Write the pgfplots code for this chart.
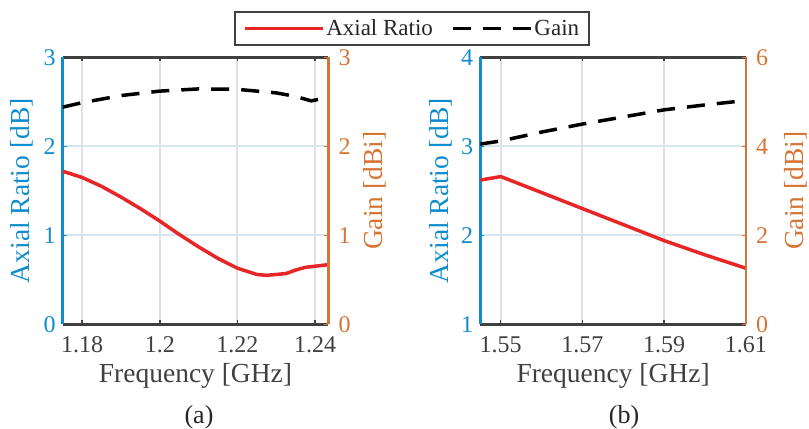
\documentclass[border=0pt]{standalone}
\usepackage{fontspec}
\setmainfont{Liberation Serif}
\usepackage{pgfplots}
\pgfplotsset{compat=1.18}
\definecolor{arblue}{RGB}{16,140,205}
\definecolor{gorange}{RGB}{214,116,52}
\definecolor{arred}{RGB}{232,38,40}
\definecolor{axgray}{RGB}{64,64,64}
\definecolor{xgridc}{RGB}{223,224,227}
\definecolor{ygridc}{RGB}{214,229,238}

\pgfplotsset{
  panel/.style={scale only axis, width=265.6bp, height=267bp, anchor=south west,
    tick align=inside, major tick length=4bp,
    /pgf/number format/assume math mode=true,
    tick label style={font=\fontsize{24bp}{28bp}\selectfont, inner sep=2bp},
    label style={font=\fontsize{27.5bp}{32bp}\selectfont},
  },
  leftax/.style={panel, axis y line*=left,
    x axis line style={draw=axgray, line width=2.5bp},
    y axis line style={draw=arblue, line width=2.5bp},
    xtick style={draw=axgray, line width=1.5bp},
    ytick style={draw=arblue, line width=1.5bp},
    xticklabel style={text=axgray, yshift=-10.5bp},
    yticklabel style={text=arblue, xshift=-5bp},
    xmajorgrids, ymajorgrids,
    x grid style={draw=xgridc, line width=2bp},
    y grid style={draw=ygridc, line width=2bp},
    xlabel={Frequency [GHz]},
    xlabel style={text=axgray, inner sep=0, anchor=north, at={(axis description cs:0.5,-0.145)}},
    ylabel={Axial Ratio [dB]},
    ylabel style={text=arblue, inner sep=0, anchor=south},
  },
  rightax/.style={panel, axis y line*=right, axis x line=none, xtick=\empty,
    y axis line style={draw=gorange, line width=2.5bp},
    ytick style={draw=gorange, line width=1.5bp},
    yticklabel style={text=gorange, xshift=8bp},
    ylabel={Gain [dBi]},
    ylabel style={text=gorange, inner sep=0, anchor=north},
  },
}

\begin{document}
\begin{tikzpicture}
\useasboundingbox (0,0) rectangle (809bp,429bp);

% ---------- panel (a), left: Axial Ratio
\begin{axis}[leftax, at={(62.7bp,104.7bp)},
  xmin=1.175, xmax=1.2434, ymin=0, ymax=3,
  xtick={1.18,1.2,1.22,1.24}, xticklabels={1.18,1.2,1.22,1.24},
  ytick={0,1,2,3},
  ylabel style={at={(axis description cs:-0.112,0.5)}},
  legend columns=2,
  legend style={at={(axis description cs:1.315,1.042)}, anchor=south,
    draw=axgray, line width=2bp, fill=white,
    font=\fontsize{23bp}{26bp}\selectfont, text=black!85,
    inner xsep=8bp, inner ysep=6bp,
    /tikz/every even column/.append style={column sep=16bp}},
  legend image code/.code={\draw[#1] (0bp,0bp) -- (78bp,0bp);},
]
\addplot[arred, line width=3.5bp] table {
1.175  1.72
1.18   1.65
1.185  1.55
1.19   1.43
1.195  1.30
1.2    1.16
1.205  1.01
1.21   0.87
1.215  0.74
1.22   0.63
1.225  0.56
1.2275 0.55
1.23   0.56
1.2325 0.57
1.235  0.61
1.2375 0.64
1.2434 0.67
};
\addlegendentry{Axial Ratio}
\addlegendimage{black, line width=3.5bp, dash pattern=on 18bp off 12bp}
\addlegendentry{Gain}
\end{axis}

% ---------- panel (a), right: Gain
\begin{axis}[rightax, at={(62.7bp,104.7bp)},
  xmin=1.175, xmax=1.2434, ymin=0, ymax=3,
  ytick={0,1,2,3},
  ylabel style={at={(axis description cs:1.1307,0.5)}},
]
\addplot[black, line width=3.5bp, dash pattern=on 18bp off 12bp] table {
1.175  2.44
1.18   2.49
1.19   2.57
1.2    2.62
1.21   2.645
1.22   2.64
1.23   2.60
1.235  2.56
1.239  2.51
1.2434 2.55
};
\end{axis}

% ---------- panel (b), left: Axial Ratio
\begin{axis}[leftax, at={(480.3bp,104.7bp)},
  xmin=1.545, xmax=1.61, ymin=1, ymax=4,
  xtick={1.55,1.57,1.59,1.61}, xticklabels={1.55,1.57,1.59,1.61},
  ytick={1,2,3,4},
  ylabel style={at={(axis description cs:-0.106,0.5)}},
]
\addplot[arred, line width=3.5bp] table {
1.545 2.62
1.55  2.66
1.56  2.48
1.57  2.30
1.58  2.12
1.59  1.94
1.60  1.78
1.61  1.63
};
\end{axis}

% ---------- panel (b), right: Gain
\begin{axis}[rightax, at={(480.3bp,104.7bp)},
  xmin=1.545, xmax=1.61, ymin=0, ymax=6,
  ytick={0,2,4,6},
  ylabel style={at={(axis description cs:1.144,0.5)}},
]
\addplot[black, line width=3.5bp, dash pattern=on 18bp off 12bp] table {
1.545 4.05
1.55  4.12
1.56  4.32
1.57  4.50
1.58  4.66
1.59  4.82
1.60  4.93
1.61  5.03
};
\end{axis}

\node[anchor=north, inner sep=0, text=black!85, font=\fontsize{26bp}{30bp}\selectfont] at (199bp,24bp) {(a)};
\node[anchor=north, inner sep=0, text=black!85, font=\fontsize{26bp}{30bp}\selectfont] at (624bp,24bp) {(b)};
\end{tikzpicture}
\end{document}
